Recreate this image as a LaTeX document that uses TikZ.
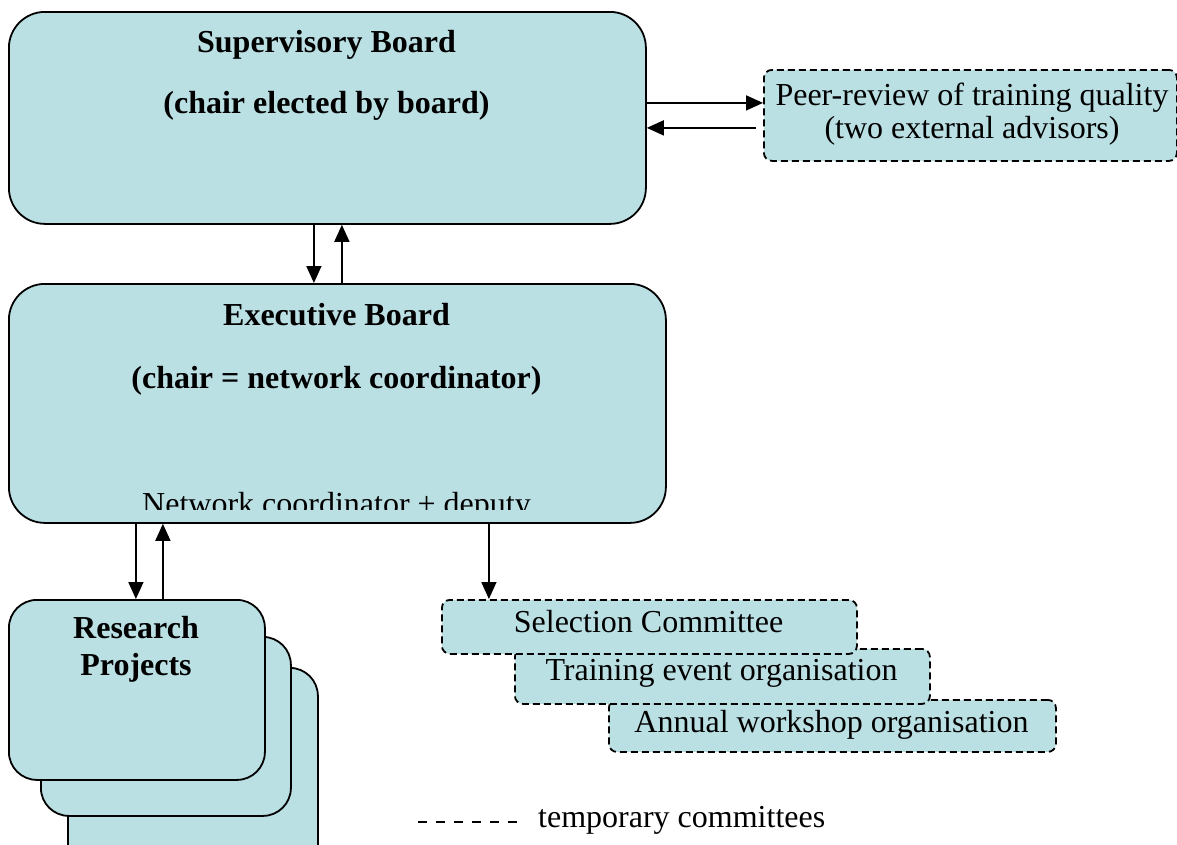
\documentclass[tikz,border=0pt]{standalone}
\usepackage{fontspec}
\setmainfont{Liberation Serif}
\usetikzlibrary{arrows.meta}
\definecolor{boxfill}{RGB}{186,224,228}
\begin{document}
\begin{tikzpicture}[x=1pt,y=-1pt,
  every node/.style={font=\fontsize{32}{33}\selectfont},
  box/.style={draw,fill=boxfill,line width=1.8pt,inner sep=0pt,rectangle,anchor=north west},
  bigbox/.style={box,rounded corners=36pt},
  rpbox/.style={box,rounded corners=28pt},
  tempbox/.style={box,dash pattern=on 7pt off 4pt,rounded corners=8pt},
  txt/.style={anchor=base,inner sep=0pt},
  btxt/.style={txt,font=\fontsize{32}{33}\selectfont\bfseries},
  arr/.style={line width=1.6pt,-{Triangle[length=17pt,width=15pt]}}]
\useasboundingbox (0,0) rectangle (1177,844);
\clip (0,0) rectangle (1177,844);

% Supervisory board
\node[bigbox,minimum width=637pt,minimum height=212pt] (sb) at (8,11) {};
\node[btxt] (sbt1) at (326.5,52) {Supervisory Board};
\node[btxt] (sbt2) at (326.5,113) {(chair elected by board)};

% Peer review
\node[tempbox,minimum width=413pt,minimum height=91pt] (peer) at (763,69) {};
\node[txt] (pt1) at (972,105) {Peer-review of training quality};
\node[txt] (pt2) at (972,138) {(two external advisors)};

% Executive board
\node[bigbox,minimum width=657pt,minimum height=239pt] (eb) at (8,283) {};
\node[btxt] (ebt1) at (336.5,325) {Executive Board};
\node[btxt] (ebt2) at (336.5,388) {(chair = network coordinator)};
\begin{scope}
  \clip (8,470) rectangle (665,509);
  \node[txt] (ebt3) at (336.5,514) {Network coordinator + deputy};
\end{scope}

% Research projects
\node[rpbox,minimum width=250pt,minimum height=210pt] (rp3) at (67,667) {};
\node[rpbox,minimum width=250pt,minimum height=179pt] (rp2) at (40,636) {};
\node[rpbox,minimum width=256pt,minimum height=180pt] (rp1) at (8,599) {};
\node[btxt] (rpt1) at (136,638) {Research};
\node[btxt] (rpt2) at (136,675) {Projects};

% Temporary committees
\node[tempbox,minimum width=447pt,minimum height=52pt] (aw) at (608,699) {};
\node[tempbox,minimum width=415pt,minimum height=55pt] (tr) at (514,648) {};
\node[tempbox,minimum width=415pt,minimum height=54pt] (sel) at (441,599) {};
\node[txt] (selt) at (648.5,632) {Selection Committee};
\node[txt] (trt) at (721.5,680) {Training event organisation};
\node[txt] (awt) at (831.5,732) {Annual workshop organisation};

% Connectors
\draw[arr] ([xshift=-13.5pt]sb.south) -- ([xshift=-23.5pt]eb.north);
\draw[arr] ([xshift=4.5pt]eb.north) -- ([xshift=14.5pt]sb.south);
\draw[arr] ([yshift=15pt]sb.east) -- ([yshift=12.5pt]peer.west);
\draw[arr] ([xshift=-7pt,yshift=-12.5pt]peer.west) -- ([yshift=-10pt]sb.east);
\draw[arr] ([xshift=-201.5pt]eb.south) -- ([xshift=-1pt]rp1.north);
\draw[arr] ([xshift=26pt]rp1.north) -- ([xshift=-174.5pt]eb.south);
\draw[arr] ([xshift=151.5pt]eb.south) -- ([xshift=-160.5pt]sel.north);

% Legend
\coordinate (l1) at (418,822);
\coordinate (l2) at (521,822);
\draw[line width=1.8pt,dash pattern=on 9pt off 9pt] (l1) -- (l2);
\node[txt,anchor=base west] (legt) at (538,827) {temporary committees};
\end{tikzpicture}
\end{document}
